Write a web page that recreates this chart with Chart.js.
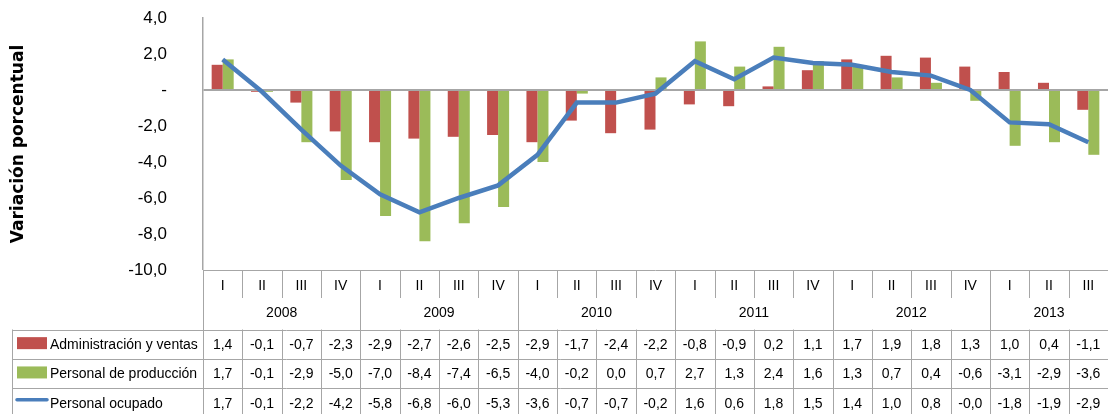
<!DOCTYPE html>
<html>
<head>
<meta charset="utf-8">
<script src="https://cdn.jsdelivr.net/npm/chart.js@4"></script>
<style>
  body { margin: 0; background: #fff; overflow: hidden; }
  canvas { display: block; }
</style>
</head>
<body>
<canvas id="chart" width="1108" height="414"></canvas>
<script>
// quarters, grouped by year
const quarters = ["I", "II", "III", "IV", "I", "II", "III", "IV", "I", "II", "III", "IV",
  "I", "II", "III", "IV", "I", "II", "III", "IV", "I", "II", "III"];
const years = ["2008", "2009", "2010", "2011", "2012", "2013"];
const yearSpans = [4, 4, 4, 4, 4, 3];

const admin = [1.4, -0.1, -0.7, -2.3, -2.9, -2.7, -2.6, -2.5, -2.9, -1.7, -2.4, -2.2,
  -0.8, -0.9, 0.2, 1.1, 1.7, 1.9, 1.8, 1.3, 1.0, 0.4, -1.1];
const produccion = [1.7, -0.1, -2.9, -5.0, -7.0, -8.4, -7.4, -6.5, -4.0, -0.2, 0.0, 0.7,
  2.7, 1.3, 2.4, 1.6, 1.3, 0.7, 0.4, -0.6, -3.1, -2.9, -3.6];
const ocupado = [1.7, -0.1, -2.2, -4.2, -5.8, -6.8, -6.0, -5.3, -3.6, -0.7, -0.7, -0.2,
  1.6, 0.6, 1.8, 1.5, 1.4, 1.0, 0.8, -0.0, -1.8, -1.9, -2.9];

const yTicks = [4, 2, 0, -2, -4, -6, -8, -10];

const RED = "#C0504D";
const GREEN = "#9BBB59";
const BLUE = "#4A7EBB";
const GRID = "#a6a6a6";

const fmt = (v) => {
  const neg = v < 0 || Object.is(v, -0);
  return (neg ? "-" : "") + Math.abs(v).toFixed(1).replace(".", ",");
};

const rows = [
  { label: "Administración y ventas", values: admin, color: RED, kind: "bar" },
  { label: "Personal de producción", values: produccion, color: GREEN, kind: "bar" },
  { label: "Personal ocupado", values: ocupado, color: BLUE, kind: "line" },
];

// draws the Excel style data table under the plot
const dataTable = {
  id: "dataTable",
  afterDraw(chart) {
    const ctx = chart.ctx;
    const area = chart.chartArea;
    const x = chart.scales.x;
    const n = quarters.length;
    const w = (area.right - area.left) / n;
    const top = area.bottom;
    const qBottom = 298;
    const yBottom = 329.5;
    const rowH = 29.3;
    const tableLeft = 12.5;
    const bottom = 440;

    ctx.save();
    ctx.strokeStyle = GRID;
    ctx.lineWidth = 1;

    // axis line under plot
    ctx.beginPath();
    ctx.moveTo(area.left, top + 0.5);
    ctx.lineTo(area.right, top + 0.5);
    ctx.stroke();

    // quarter separators
    let yearStarts = [0];
    yearSpans.forEach((s, i) => yearStarts.push(yearStarts[i] + s));
    for (let i = 0; i <= n; i++) {
      const bx = Math.round(area.left + i * w) + 0.5;
      const full = yearStarts.includes(i);
      ctx.beginPath();
      ctx.moveTo(bx, top);
      ctx.lineTo(bx, full ? bottom : qBottom);
      ctx.stroke();
      if (!full) {
        ctx.beginPath();
        ctx.moveTo(bx, yBottom);
        ctx.lineTo(bx, bottom);
        ctx.stroke();
      }
    }

    // row lines
    for (let r = 0; r < 3; r++) {
      const ry = Math.round(yBottom + r * rowH) + 0.5;
      ctx.beginPath();
      ctx.moveTo(tableLeft, ry);
      ctx.lineTo(area.right, ry);
      ctx.stroke();
    }
    ctx.beginPath();
    ctx.moveTo(tableLeft, yBottom);
    ctx.lineTo(tableLeft, bottom);
    ctx.stroke();

    ctx.fillStyle = "#000";
    ctx.textAlign = "center";
    ctx.textBaseline = "middle";
    ctx.font = "14px 'Liberation Sans', Arial, sans-serif";

    quarters.forEach((q, i) => {
      ctx.fillText(q, x.getPixelForValue(i), 286);
    });
    years.forEach((yr, i) => {
      const cx = area.left + (yearStarts[i] + yearSpans[i] / 2) * w;
      ctx.fillText(yr, cx, 313);
    });

    rows.forEach((row, r) => {
      const cy = yBottom + r * rowH + rowH / 2 + 1;
      row.values.forEach((v, i) => {
        ctx.fillText(fmt(v), x.getPixelForValue(i), cy);
      });
      // legend key
      if (row.kind === "bar") {
        ctx.fillStyle = row.color;
        ctx.fillRect(17, cy - 8, 30, 12);
      } else {
        ctx.strokeStyle = row.color;
        ctx.lineWidth = 3.5;
        ctx.lineCap = "round";
        ctx.beginPath();
        ctx.moveTo(17, cy - 4);
        ctx.lineTo(47, cy - 4);
        ctx.stroke();
      }
      ctx.fillStyle = "#000";
      ctx.textAlign = "left";
      ctx.fillText(row.label, 50, cy);
      ctx.textAlign = "center";
    });

    ctx.restore();
  },
};

new Chart(document.getElementById("chart"), {
  type: "bar",
  data: {
    labels: quarters,
    datasets: [
      {
        label: rows[0].label,
        data: admin,
        backgroundColor: RED,
        categoryPercentage: 0.56,
        barPercentage: 1.0,
        order: 1,
      },
      {
        label: rows[1].label,
        data: produccion,
        backgroundColor: GREEN,
        categoryPercentage: 0.56,
        barPercentage: 1.0,
        order: 1,
      },
      {
        type: "line",
        label: rows[2].label,
        data: ocupado,
        borderColor: BLUE,
        borderWidth: 4.5,
        pointRadius: 0,
        tension: 0,
        fill: false,
        order: 0,
      },
    ],
  },
  options: {
    responsive: false,
    animation: false,
    layout: { padding: { top: 18, bottom: 144, left: 0, right: 0 } },
    plugins: {
      legend: { display: false },
      tooltip: { enabled: false },
    },
    scales: {
      x: { display: false },
      y: {
        min: -10,
        max: 4,
        afterBuildTicks: (s) => {
          s.ticks = yTicks.map((v) => ({ value: v }));
        },
        afterFit: (s) => {
          s.width = 203;
        },
        ticks: {
          padding: 0,
          color: "#000",
          font: { family: "'Liberation Sans', Arial, sans-serif", size: 17 },
          callback: (v) => (v === 0 ? "-" : fmt(v)),
        },
        grid: {
          drawTicks: true,
          tickLength: 36,
          tickColor: "rgba(0,0,0,0)",
          color: (c) => (c.tick && c.tick.value === 0 ? GRID : "rgba(0,0,0,0)"),
          lineWidth: (c) => (c.tick && c.tick.value === 0 ? 2 : 0),
        },
        border: { display: true, color: GRID, width: 1.5 },
        title: {
          display: true,
          text: "Variación porcentual",
          color: "#000",
          font: { family: "'DejaVu Sans', Verdana, sans-serif", size: 17, weight: "bold" },
          padding: { top: 8, bottom: 0 },
        },
      },
    },
  },
  plugins: [dataTable],
});
</script>
</body>
</html>
